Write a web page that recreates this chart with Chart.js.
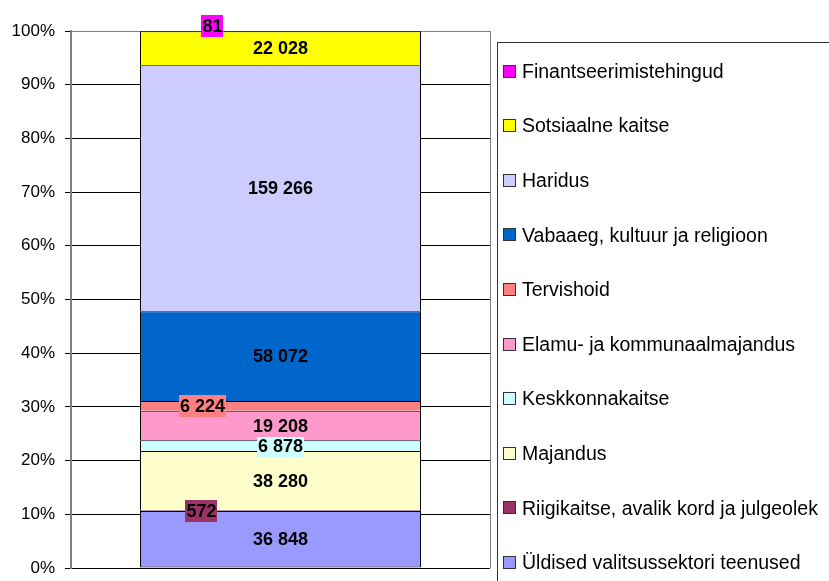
<!DOCTYPE html>
<html>
<head>
<meta charset="utf-8">
<script src="https://cdn.jsdelivr.net/npm/chart.js@4"></script>
<style>
  html, body { margin: 0; padding: 0; background: #fff; }
  canvas { display: block; }
</style>
</head>
<body>
<canvas id="myChart" width="829" height="581"></canvas>
<script>
// series listed bottom to top of the stacked bar
var seriesNames = [
  'Üldised valitsussektori teenused',
  'Riigikaitse, avalik kord ja julgeolek',
  'Majandus',
  'Keskkonnakaitse',
  'Elamu- ja kommunaalmajandus',
  'Tervishoid',
  'Vabaaeg, kultuur ja religioon',
  'Haridus',
  'Sotsiaalne kaitse',
  'Finantseerimistehingud'
];
var seriesValues = [36848, 572, 38280, 6878, 19208, 6224, 58072, 159266, 22028, 81];
var categories = [''];
var yTicks = [0, 10, 20, 30, 40, 50, 60, 70, 80, 90, 100];

var colors = ['#9999FF', '#993366', '#FFFFCC', '#CCFFFF', '#FF99CC',
              '#FF8080', '#0066CC', '#CCCCFF', '#FFFF00', '#FF00FF'];
// nudges for the small value labels, like the original placement
var labelShift = [[0, 0], [-79, 0], [0, 0], [0, 0], [0, 0],
                  [-78, 0], [0, 0], [0, 0], [0, 0], [-68, -5]];

var total = seriesValues.reduce(function (a, b) { return a + b; }, 0);

function fmt(v) {
  return String(v).replace(/\B(?=(\d{3})+(?!\d))/g, ' ');
}

var datasets = seriesNames.map(function (name, i) {
  return {
    label: name,
    data: [seriesValues[i] / total * 100],
    rawValue: seriesValues[i],
    backgroundColor: colors[i],
    borderColor: '#000',
    borderWidth: { top: 1, left: 1, right: 1, bottom: i === 0 ? 1 : 0 },
    borderSkipped: false,
    barPercentage: 0.6707,
    categoryPercentage: 1
  };
});

var valueLabels = {
  id: 'valueLabels',
  afterDatasetsDraw: function (chart) {
    var c = chart.ctx;
    c.save();
    c.font = 'bold 18px "Liberation Sans", Arial, sans-serif';
    c.textAlign = 'center';
    c.textBaseline = 'middle';
    chart.data.datasets.forEach(function (ds, i) {
      var bar = chart.getDatasetMeta(i).data[0];
      var x = bar.x + labelShift[i][0];
      var y = (bar.y + bar.base) / 2 + labelShift[i][1];
      var txt = fmt(ds.rawValue);
      var w = c.measureText(txt).width + 2;
      c.fillStyle = ds.backgroundColor;
      c.fillRect(Math.round(x - w / 2), Math.round(y - 11), Math.round(w), 22);
      c.fillStyle = '#000';
      c.fillText(txt, x, y + 1);
    });
    c.restore();
  }
};

var frameAndLegend = {
  id: 'frameAndLegend',
  afterDraw: function (chart) {
    var c = chart.ctx;
    var a = chart.chartArea;
    c.save();
    // plot area right border
    c.strokeStyle = '#808080';
    c.lineWidth = 1;
    c.beginPath();
    c.moveTo(Math.round(a.right) + 0.5, Math.round(a.top));
    c.lineTo(Math.round(a.right) + 0.5, Math.round(a.bottom));
    c.stroke();

    // legend box
    c.fillStyle = '#fff';
    c.fillRect(497, 43, 400, 600);
    c.strokeStyle = '#333';
    c.strokeRect(497.5, 42.5, 400, 600);

    c.font = '19.5px "Liberation Sans", Arial, sans-serif';
    c.textBaseline = 'middle';
    c.textAlign = 'left';
    var n = chart.data.datasets.length;
    for (var k = 0; k < n; k++) {
      var i = n - 1 - k;
      var ds = chart.data.datasets[i];
      var cy = 71.5 + k * 54.6;
      c.fillStyle = ds.backgroundColor;
      c.fillRect(504, Math.round(cy) - 6, 12, 12);
      c.strokeStyle = '#333';
      c.strokeRect(503.5, Math.round(cy) - 6.5, 12, 12);
      c.fillStyle = '#000';
      c.fillText(ds.label, 522, cy + 1);
    }
    c.restore();
  }
};

var ctx = document.getElementById('myChart').getContext('2d');
var myChart = new Chart(ctx, {
  type: 'bar',
  data: {
    labels: categories,
    datasets: datasets
  },
  options: {
    responsive: false,
    animation: false,
    devicePixelRatio: 1,
    layout: { padding: { left: 0, right: 339, top: 31, bottom: 13 } },
    plugins: {
      legend: { display: false },
      tooltip: { enabled: false }
    },
    scales: {
      x: {
        stacked: true,
        display: false
      },
      y: {
        stacked: true,
        min: 0,
        max: 100,
        afterBuildTicks: function (scale) {
          scale.ticks = yTicks.map(function (v) { return { value: v }; });
        },
        afterFit: function (scale) {
          scale.width = 71;
          scale.paddingTop = 0;
          scale.paddingBottom = 0;
        },
        ticks: {
          padding: 10,
          color: '#000',
          font: { family: '"Liberation Sans", Arial, sans-serif', size: 17 },
          callback: function (v) { return v + '%'; }
        },
        grid: {
          color: function (c) { return c.tick && c.tick.value === 100 ? '#808080' : '#000'; },
          lineWidth: 1,
          tickLength: 6,
          tickColor: '#000'
        },
        border: { color: '#808080', width: 2 }
      }
    }
  },
  plugins: [valueLabels, frameAndLegend]
});
</script>
</body>
</html>
